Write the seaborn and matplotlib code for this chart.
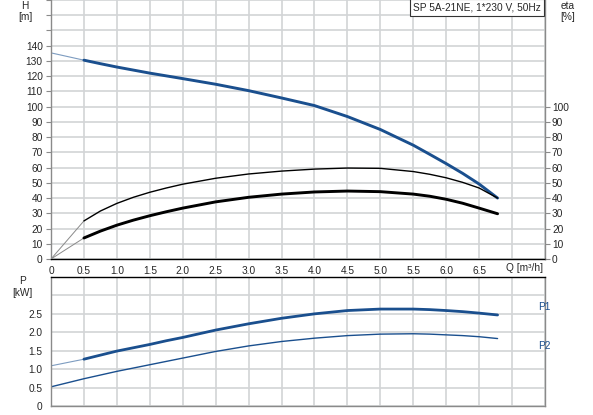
import matplotlib
matplotlib.use("Agg")
import matplotlib.pyplot as plt
import seaborn as sns
import numpy as np
import pandas as pd

# ---- data ----
q = [0.0, 0.5, 0.75, 1.0, 1.25, 1.5, 1.75, 2.0, 2.5, 3.0, 3.5, 4.0, 4.5, 5.0,
     5.5, 5.75, 6.0, 6.25, 6.5, 6.78]
head = [135.3, 130.5, 128.2, 126, 124, 122, 120.2, 118.4, 114.7, 110.5, 105.7,
        100.7, 93.5, 85, 74.7, 68.7, 62.6, 56.2, 49.2, 40]
eta_pump = [0, 25, 31.5, 36.5, 40.5, 43.8, 46.6, 49.1, 53, 55.8, 57.7, 59.0,
            59.7, 59.5, 57.4, 55.6, 53.3, 50.3, 46.6, 40]
eta_total = [0, 13.8, 18.3, 22.2, 25.5, 28.4, 31.0, 33.4, 37.5, 40.5, 42.6, 44.0,
             44.6, 44.2, 42.6, 41.2, 39.2, 36.6, 33.4, 29.7]
p1 = [1.09, 1.27, 1.38, 1.49, 1.58, 1.67, 1.77, 1.86, 2.06, 2.23, 2.38, 2.5,
      2.59, 2.63, 2.63, 2.615, 2.59, 2.56, 2.52, 2.47]
p2 = [0.52, 0.74, 0.84, 0.94, 1.03, 1.12, 1.21, 1.30, 1.48, 1.63, 1.75, 1.84,
      1.91, 1.95, 1.96, 1.95, 1.93, 1.91, 1.88, 1.83]

x_tick_labels = ["0", "0.5", "1.0", "1.5", "2.0", "2.5", "3.0", "3.5", "4.0",
                 "4.5", "5.0", "5.5", "6.0", "6.5"]
h_ticks = list(range(0, 150, 10))
eta_ticks = list(range(0, 110, 10))
p_tick_labels = ["0", "0.5", "1.0", "1.5", "2.0", "2.5"]
title = "SP 5A-21NE, 1*230 V, 50Hz"

df = pd.DataFrame({"q": q, "head": head, "eta_pump": eta_pump,
                   "eta_total": eta_total, "p1": p1, "p2": p2})
start = df.iloc[:2]
main = df.iloc[1:]

sns.set_style("white")
plt.rcParams["font.family"] = ["Liberation Sans", "DejaVu Sans"]
FS = 7.3
BLUE = "#1a4f8e"
GRID = "#d2d4d6"
SPINE = "#8a8a8a"

W, H = 593, 415
fig = plt.figure(figsize=(W / 100, H / 100), dpi=100)


def px_axes(x0, y0, x1, y1):
    return fig.add_axes([x0 / W, 1 - y1 / H, (x1 - x0) / W, (y1 - y0) / H])


ax = px_axes(51, 0, 545, 259)
axp = px_axes(51, 277, 545, 406)


def style(a):
    a.set_xlim(0, 7.5)
    a.set_xticks(np.arange(0, 7.6, 0.5))
    a.grid(True, color=GRID, linewidth=1.2)
    a.set_axisbelow(True)
    for s in ["left", "right", "bottom", "top"]:
        a.spines[s].set_color(SPINE)
        a.spines[s].set_linewidth(1.0)
    a.tick_params(axis="both", which="both", labelsize=FS, length=3.5,
                  color=SPINE, pad=2.5)


# ---- top axes ----
style(ax)
ax.set_ylim(0, 170)
ax.set_yticks(np.arange(0, 171, 10))
ax.set_yticklabels([str(v) if v in h_ticks else "" for v in range(0, 171, 10)])
ax.set_xticklabels(x_tick_labels + ["", ""])
ax.tick_params(axis="x", pad=1.5)
ax.spines["bottom"].set_color("black")
ax.spines["top"].set_visible(False)

sns.lineplot(data=start, x="q", y="head", ax=ax, color="#7d9cc0", linewidth=0.8)
sns.lineplot(data=main, x="q", y="head", ax=ax, color=BLUE, linewidth=2.1)
ax.set_xlabel("")
ax.set_ylabel("")

ax2 = ax.twinx()
ax2.set_ylim(0, 170)
ax2.set_yticks(eta_ticks)
ax2.set_yticklabels([str(v) for v in eta_ticks])
ax2.tick_params(axis="y", labelsize=FS, length=3.5, color=SPINE, pad=1.5)
for s in ["left", "right", "bottom", "top"]:
    ax2.spines[s].set_visible(False)
sns.lineplot(data=start, x="q", y="eta_pump", ax=ax2, color="#8a8a8a", linewidth=0.7)
sns.lineplot(data=main, x="q", y="eta_pump", ax=ax2, color="black", linewidth=1.0)
sns.lineplot(data=start, x="q", y="eta_total", ax=ax2, color="#8a8a8a", linewidth=0.7)
sns.lineplot(data=main, x="q", y="eta_total", ax=ax2, color="black", linewidth=2.1)
ax2.set_ylabel("")
ax2.set_xlabel("")

fig.text(25 / W, 1 - 6 / H, "H", fontsize=FS, ha="center", va="center")
fig.text(25 / W, 1 - 17 / H, "[m]", fontsize=FS, ha="center", va="center")
fig.text(568 / W, 1 - 6 / H, "eta", fontsize=FS, ha="center", va="center")
fig.text(568 / W, 1 - 17 / H, "[%]", fontsize=FS, ha="center", va="center")
fig.text(524 / W, 1 - 268 / H, "Q [m³/h]", fontsize=FS, ha="center", va="center")
fig.text(541 / W, 1 - 7.5 / H, title, fontsize=FS, ha="right", va="center",
         bbox=dict(boxstyle="square,pad=0.3", facecolor="white",
                   edgecolor="#333333", linewidth=0.8))

# ---- bottom axes ----
style(axp)
axp.set_ylim(0, 3.5)
axp.set_yticks(np.arange(0, 3.6, 0.5))
axp.set_yticklabels(p_tick_labels + ["", ""])
axp.set_xticklabels([])
axp.tick_params(axis="x", length=0)
axp.spines["top"].set_color("black")

sns.lineplot(data=start, x="q", y="p1", ax=axp, color="#7d9cc0", linewidth=0.8)
sns.lineplot(data=main, x="q", y="p1", ax=axp, color=BLUE, linewidth=2.0)
sns.lineplot(data=df, x="q", y="p2", ax=axp, color=BLUE, linewidth=1.0)
axp.set_xlabel("")
axp.set_ylabel("")

fig.text(22 / W, 1 - 281 / H, "P", fontsize=FS, ha="center", va="center")
fig.text(22 / W, 1 - 293 / H, "[kW]", fontsize=FS, ha="center", va="center")
fig.text(544 / W, 1 - 307 / H, "P1", fontsize=FS, ha="center", va="center", color=BLUE)
fig.text(544 / W, 1 - 346 / H, "P2", fontsize=FS, ha="center", va="center", color=BLUE)

fig.savefig("out.png", dpi=100)
